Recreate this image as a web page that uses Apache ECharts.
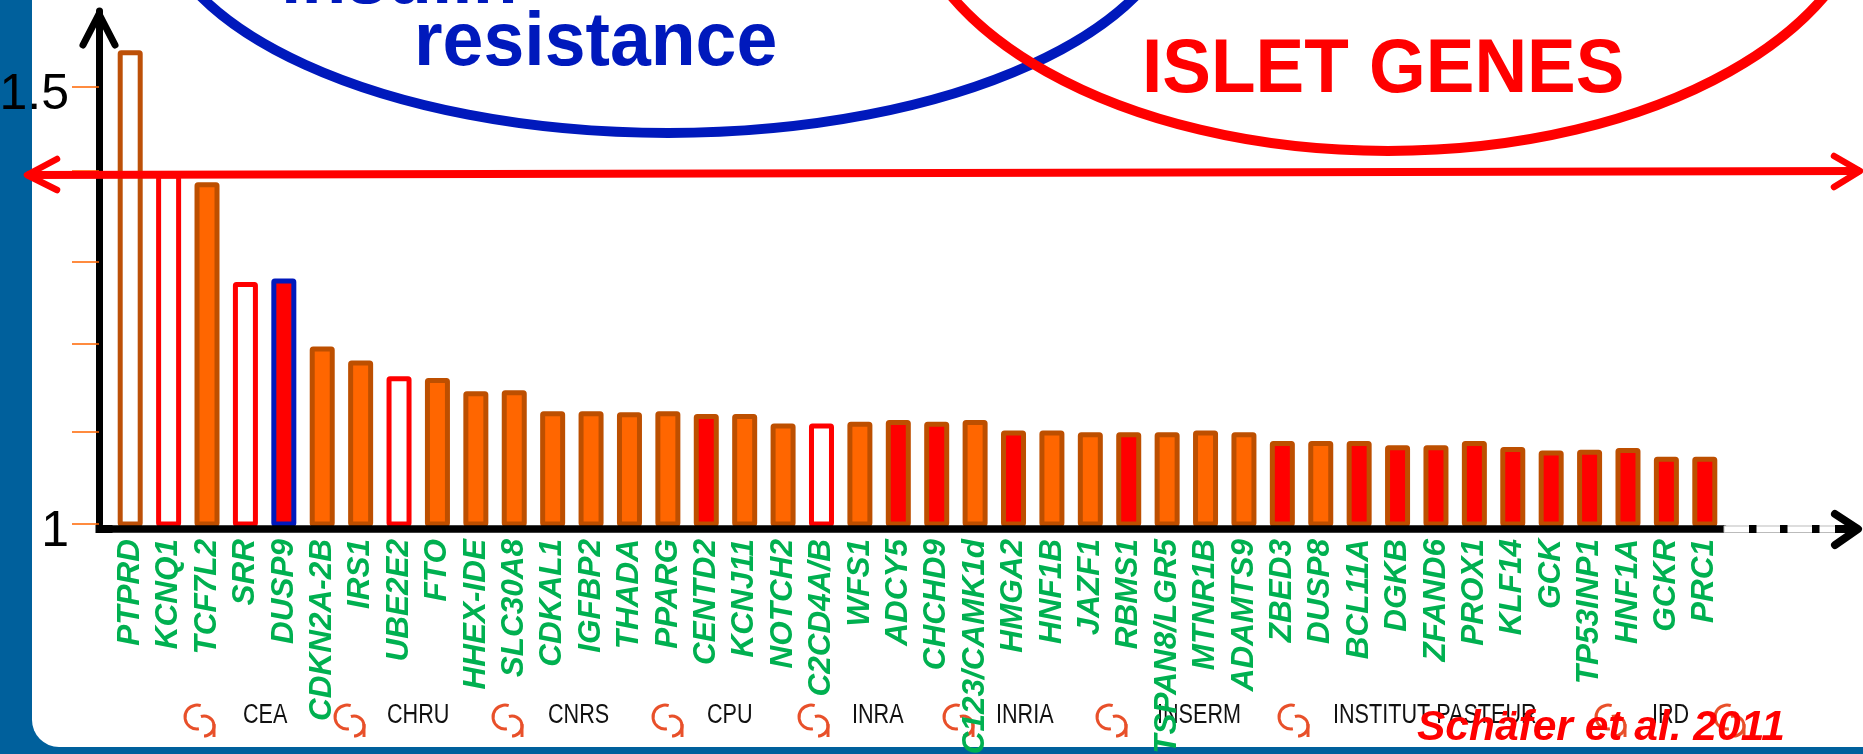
<!DOCTYPE html>
<html><head><meta charset="utf-8">
<style>html,body{margin:0;padding:0;background:#00609C;overflow:hidden}#c{width:1863px;height:754px}</style>
<script src="https://cdn.jsdelivr.net/npm/echarts@6/dist/echarts.min.js"></script>
</head><body><div id="c"></div>
<script>
const genes = ['PTPRD','KCNQ1','TCF7L2','SRR','DUSP9','CDKN2A-2B','IRS1','UBE2E2','FTO','HHEX-IDE','SLC30A8','CDKAL1','IGFBP2','THADA','PPARG','CENTD2','KCNJ11','NOTCH2','C2CD4A/B','WFS1','ADCY5','CHCHD9','CDC123/CAMK1d','HMGA2','HNF1B','JAZF1','RBMS1','TSPAN8/LGR5','MTNR1B','ADAMTS9','ZBED3','DUSP8','BCL11A','DGKB','ZFAND6','PROX1','KLF14','GCK','TP53INP1','HNF1A','GCKR','PRC1'];
const values = [1.542,1.401,1.391,1.277,1.281,1.203,1.187,1.169,1.167,1.152,1.153,1.129,1.129,1.128,1.129,1.126,1.126,1.115,1.115,1.117,1.119,1.117,1.119,1.107,1.107,1.105,1.105,1.105,1.107,1.105,1.095,1.095,1.095,1.090,1.090,1.095,1.088,1.084,1.085,1.087,1.077,1.077];
const kinds = ['hb','hr','o','hr','b','o','o','hr','o','o','o','o','o','o','o','r','o','o','hr','o','r','r','o','r','o','o','r','o','o','o','r','o','r','r','r','r','r','r','r','r','r','r'];
const yTicks = [1,1.105,1.206,1.3,1.404,1.5];
const yLabels = [1,1.5];
const institutions = ['CEA','CHRU','CNRS','CPU','INRA','INRIA','INSERM','INSTITUT PASTEUR','IRD'];
const citation = 'Schäfer et al. 2011';

const kindStyle = {
  hb:{color:'#ffffff',borderColor:'#BD5008'},
  hr:{color:'#ffffff',borderColor:'#FF0000'},
  o:{color:'#FF6600',borderColor:'#BD4F00'},
  r:{color:'#FF0000',borderColor:'#BD4F00'},
  b:{color:'#FF0000',borderColor:'#0019BC'}
};
const instX = [243,387,548,707,852,996,1157,1333,1652];
const iconX = [196,346,504,664,810,955,1108,1290,1607,1726];
const g = [];
const BLUE='#0019BC', RED='#FF0000', ICON='#E8502A';
g.push({type:'rect',z:-1,shape:{x:32,y:-40,width:1900,height:787,r:[0,0,0,27]},style:{fill:'#fff'}});
g.push({type:'ellipse',z:6,shape:{cx:668,cy:-100,rx:513,ry:233},style:{fill:'none',stroke:BLUE,lineWidth:10}});
g.push({type:'ellipse',z:7,shape:{cx:1388,cy:-120,rx:483,ry:271},style:{fill:'none',stroke:RED,lineWidth:10}});
function txt(t,x,y,font,fill,z,sx){g.push({type:'text',z:z,x:x,y:y,scaleX:sx||1,style:{text:t,x:0,y:0,font:font,fill:fill,verticalAlign:'middle',align:'left'}});}
txt('insulin',281,-18,'bold 76px "Liberation Sans"',BLUE,8,0.966);
txt('resistance',414,44,'bold 76px "Liberation Sans"',BLUE,8,0.966);
txt('ISLET GENES',1142,71,'bold 76px "Liberation Sans"',RED,8,0.96);
txt(citation,1417,728,'italic bold 42.5px "Liberation Sans"',RED,10);
institutions.forEach((n,i)=>txt(n,instX[i],716,'27px "Liberation Sans"','#111',1,0.8));
iconX.forEach(x=>{
  const a=(cx,cy,r,s,e)=>g.push({type:'arc',z:1,shape:{cx:cx,cy:cy,r:r,startAngle:s,endAngle:e,clockwise:true},style:{fill:'none',stroke:ICON,lineWidth:3}});
  a(x+1,717,12,Math.PI*0.45,Math.PI*1.6);
  a(x+8,726,10,-Math.PI*0.6,Math.PI*0.5);
  g.push({type:'line',z:1,shape:{x1:x+18,y1:724,x2:x+18,y2:737},style:{stroke:ICON,lineWidth:3}});
});
function chev(pts,col,w,z){g.push({type:'polyline',z:z,shape:{points:pts},style:{fill:'none',stroke:col,lineWidth:w,lineCap:'round',lineJoin:'round'}});}
g.push({type:'rect',z:6,shape:{x:95.5,y:525,width:17,height:8},style:{fill:'#000'}});
chev([[83,45],[99,14],[115,45]],'#000',7,6);
g.push({type:'rect',z:6,shape:{x:1724,y:526,width:112,height:6.5},style:{fill:'#fff',stroke:'#bbb',lineWidth:1}});
[1749,1780,1812,1835].forEach((x,i)=>g.push({type:'rect',z:6,shape:{x:x,y:525,width:i==3?22:7.5,height:8},style:{fill:'#000'}}));
chev([[1835,514],[1858,529],[1835,545]],'#000',8,6);
g.push({type:'line',z:9,shape:{x1:27,y1:175,x2:1860,y2:171},style:{stroke:RED,lineWidth:8}});
chev([[57,159],[27,175],[57,190]],RED,6.5,9);
chev([[1834,156],[1860,171],[1834,187]],RED,6.5,9);

const chart = echarts.init(document.getElementById('c'),null,{renderer:'canvas'});
chart.setOption({
  animation:false,
  backgroundColor:'#00609C',
  grid:{left:111,right:139,top:11,bottom:230,containLabel:false,outerBoundsMode:'none'},
  xAxis:{type:'category',data:genes,offset:5,z:5,
    axisLine:{show:true,lineStyle:{color:'#000',width:7.5}},
    axisTick:{show:false},
    axisLabel:{interval:0,rotate:90,margin:10,hideOverlap:false,color:'#00B050',fontFamily:'Liberation Sans',fontWeight:'bold',fontStyle:'italic',fontSize:31.5}},
  yAxis:{type:'value',min:1,max:1.587,interval:0.1,offset:12,z:5,splitLine:{show:false},
    axisLine:{show:true,lineStyle:{color:'#000',width:7}},
    axisTick:{show:true,length:27,customValues:yTicks,lineStyle:{color:'#FF6600',width:1.5}},
    axisLabel:{customValues:yLabels,margin:30,formatter:v=>'{n|'+v+'}',
      rich:{n:{color:'#000',fontFamily:'Liberation Sans',fontSize:50,lineHeight:66,verticalAlign:'bottom'}}}},
  series:[{type:'bar',barWidth:25,z:2,
    data:values.map((v,i)=>({value:v,itemStyle:Object.assign({borderWidth:5,borderRadius:1},kindStyle[kinds[i]])}))}],
  graphic:{elements:g}
});
</script></body></html>
